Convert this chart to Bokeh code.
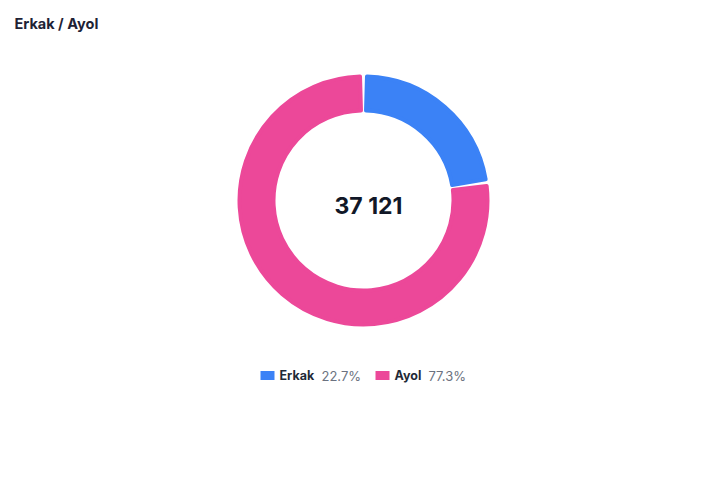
import math
from bokeh.plotting import figure
from bokeh.models import Range1d, ColumnDataSource
from bokeh.core.properties import value
from bokeh.embed import file_html
from bokeh.resources import INLINE

# ---- data ----
title_text = "Erkak / Ayol"
categories = ["Erkak", "Ayol"]
counts = [8427, 28694]
colors = ["#3B82F6", "#EC4899"]

# ---- layout constants ----
W, H = 726, 482
CX, CY_PX = 363, 200
R_OUT, R_IN = 126, 88
FONT = "Inter"

total = sum(counts)
fracs = [c / total for c in counts]
pct_labels = [f"{f * 100:.1f}%" for f in fracs]
total_label = f"{total:,}".replace(",", " ")

def Y(py):
    return H - py

p = figure(width=W, height=H, x_range=Range1d(0, W), y_range=Range1d(0, H),
           toolbar_location=None, output_backend="svg", min_border=0)
p.axis.visible = False
p.grid.visible = False
p.outline_line_color = None
p.background_fill_color = "white"
p.border_fill_color = "white"

# ---- donut ----
round_r = 2.0
gap_px = 2.0
r_mid = (R_OUT + R_IN) / 2
shrink = (gap_px / 2 + round_r) / r_mid
starts, ends = [], []
cum = 0.0
for f in fracs:
    s, e = cum, cum + f
    cum = e
    starts.append(math.pi / 2 - 2 * math.pi * e + shrink)
    ends.append(math.pi / 2 - 2 * math.pi * s - shrink)

src = ColumnDataSource(dict(start=starts, end=ends, color=colors))
p.annular_wedge(x=CX, y=Y(CY_PX), inner_radius=R_IN + round_r, outer_radius=R_OUT - round_r,
                start_angle="start", end_angle="end", direction="anticlock",
                fill_color="color", line_color="color", line_width=2 * round_r,
                line_join="round", source=src)

# ---- centre total ----
p.text(x=[368], y=[Y(205)], text=[total_label], text_font=value(FONT),
       text_font_size="23px", text_font_style="bold", text_color="#111827",
       text_align="center", text_baseline="middle")

# ---- title ----
p.text(x=[14], y=[Y(23)], text=[title_text], text_font=value(FONT),
       text_font_size="14.5px", text_font_style="bold", text_color="#1E2235",
       text_align="left", text_baseline="middle")

# ---- legend ----
sw_x = [267, 382]
name_x = [279, 394]
pct_x = [321, 428]
ly = Y(375)
p.rect(x=sw_x, y=[Y(375)] * 2, width=14, height=9, fill_color=colors, line_color=None)
p.text(x=name_x, y=[ly] * 2, text=categories, text_font=value(FONT),
       text_font_size="12.5px", text_font_style="bold", text_color="#1F2937",
       text_align="left", text_baseline="middle")
p.text(x=pct_x, y=[ly] * 2, text=pct_labels, text_font=value(FONT),
       text_font_size="13px", text_color="#6B7280",
       text_align="left", text_baseline="middle")

open("out.html", "w").write(file_html(p, INLINE))
